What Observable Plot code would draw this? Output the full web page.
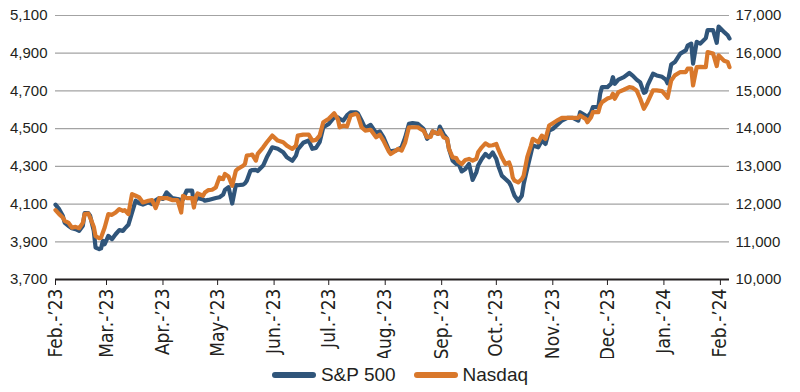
<!DOCTYPE html>
<html>
<head>
<meta charset="utf-8">
<script src="https://cdn.jsdelivr.net/npm/d3@7"></script>
<script src="https://cdn.jsdelivr.net/npm/@observablehq/plot@0.6"></script>
<style>
  html, body { margin: 0; padding: 0; background: #ffffff; }
  body { width: 800px; font-family: "Liberation Sans", Arial, sans-serif; color: #231f20; }
  #chart svg { display: block; }
  g[aria-label="x-axis tick label"] { font-family: "Liberation Sans Narrow", "Arial Narrow", "DejaVu Sans Condensed", sans-serif; font-size: 19px; }
  #legend { display: flex; justify-content: center; align-items: center; height: 34px; font-size: 19px; color: #231f20; }
  #legend .item { display: flex; align-items: center; margin: 0 9px; }
  #legend .sw { display: inline-block; width: 44px; height: 6px; border-radius: 3px; margin-right: 5px; }
</style>
</head>
<body>
<div id="chart"></div>
<div id="legend"></div>
<script>
// ---- data ----
const dates = [
"2023-02-01","2023-02-03","2023-02-05","2023-02-06","2023-02-08","2023-02-10","2023-02-12","2023-02-14","2023-02-16","2023-02-17",
"2023-02-19","2023-02-20","2023-02-22","2023-02-23","2023-02-25","2023-02-26","2023-02-27","2023-02-28","2023-03-02","2023-03-04",
"2023-03-06","2023-03-08","2023-03-10","2023-03-11","2023-03-13","2023-03-15","2023-03-17","2023-03-19","2023-03-21","2023-03-24",
"2023-03-26","2023-03-28","2023-03-30","2023-04-01","2023-04-03","2023-04-06","2023-04-09","2023-04-11","2023-04-12","2023-04-14",
"2023-04-17","2023-04-18","2023-04-19","2023-04-20","2023-04-23","2023-04-24","2023-04-26","2023-04-28","2023-04-30","2023-05-02",
"2023-05-04","2023-05-05","2023-05-07","2023-05-09","2023-05-11","2023-05-12","2023-05-15","2023-05-16","2023-05-17","2023-05-19",
"2023-05-20","2023-05-22","2023-05-23","2023-05-26","2023-05-28","2023-05-31","2023-06-03","2023-06-06","2023-06-08","2023-06-11",
"2023-06-13","2023-06-14","2023-06-17","2023-06-20","2023-06-22","2023-06-24","2023-06-26","2023-06-28","2023-07-01","2023-07-04",
"2023-07-06","2023-07-07","2023-07-09","2023-07-11","2023-07-13","2023-07-16","2023-07-17","2023-07-19","2023-07-21","2023-07-24",
"2023-07-27","2023-07-29","2023-07-31","2023-08-03","2023-08-04","2023-08-07","2023-08-08","2023-08-10","2023-08-12","2023-08-14",
"2023-08-16","2023-08-19","2023-08-20","2023-08-22","2023-08-24","2023-08-26","2023-08-27","2023-08-30","2023-08-31","2023-09-02",
"2023-09-04","2023-09-05","2023-09-07","2023-09-09","2023-09-10","2023-09-12","2023-09-14","2023-09-16","2023-09-18","2023-09-20",
"2023-09-21","2023-09-23","2023-09-25","2023-09-27","2023-09-29","2023-10-01","2023-10-02","2023-10-04","2023-10-06","2023-10-08",
"2023-10-09","2023-10-10","2023-10-11","2023-10-13","2023-10-15","2023-10-16","2023-10-18","2023-10-20","2023-10-21","2023-10-24",
"2023-10-26","2023-10-28","2023-10-30","2023-11-01","2023-11-04","2023-11-06","2023-11-09","2023-11-12","2023-11-15","2023-11-16",
"2023-11-19","2023-11-20","2023-11-22","2023-11-23","2023-11-26","2023-11-27","2023-11-28","2023-12-01","2023-12-03","2023-12-04",
"2023-12-05","2023-12-07","2023-12-10","2023-12-13","2023-12-15","2023-12-17","2023-12-19","2023-12-21","2023-12-22","2023-12-23",
"2023-12-26","2023-12-28","2023-12-31","2024-01-02","2024-01-03","2024-01-05","2024-01-07","2024-01-10","2024-01-13","2024-01-14",
"2024-01-16","2024-01-17","2024-01-19","2024-01-21","2024-01-24","2024-01-25","2024-01-28","2024-01-30","2024-01-31","2024-02-03",
"2024-02-05","2024-02-06"
];
const sp500 = [
4097,4073,4038,4002,3985,3972,3967,3958,3985,4052,
4052,4038,3958,3869,3861,3865,3905,3887,3931,3914,
3940,3962,3958,3970,3990,4055,4118,4104,4097,4109,
4100,4120,4132,4127,4162,4132,4127,4121,4125,4171,
4171,4100,4120,4132,4125,4118,4122,4127,4132,4136,
4150,4175,4190,4103,4200,4200,4203,4210,4224,4277,
4280,4281,4275,4304,4348,4401,4393,4375,4348,4330,
4357,4390,4425,4437,4393,4398,4428,4507,4525,4561,
4560,4552,4543,4570,4587,4587,4580,4543,4503,4520,
4477,4485,4455,4388,4380,4385,4390,4401,4454,4525,
4529,4525,4516,4499,4446,4465,4485,4472,4511,4472,
4446,4393,4330,4313,4321,4273,4286,4313,4228,4268,
4304,4339,4366,4348,4374,4339,4304,4251,4233,4215,
4198,4170,4144,4118,4144,4206,4290,4370,4410,4401,
4437,4419,4490,4499,4525,4543,4557,4557,4543,4587,
4570,4560,4587,4614,4614,4685,4720,4720,4738,4773,
4738,4760,4773,4795,4780,4760,4745,4690,4694,4729,
4791,4782,4775,4760,4741,4840,4853,4898,4915,4940,
4951,4845,4960,4951,4980,5023,5022,4955,5041,5013,
4995,4978
];
const nasdaq = [
11840,11733,11643,11555,11510,11377,11395,11360,11500,11733,
11750,11643,11400,11150,11095,11110,11245,11377,11733,11715,
11776,11866,11821,11840,11733,12265,12220,12175,12042,12087,
12106,11893,12159,12159,12159,12106,12106,11776,12220,12159,
12159,11909,12193,12281,12220,12308,12372,12380,12441,12707,
12664,12797,12734,12486,12885,12930,13018,13063,13284,13300,
13310,13151,13329,13505,13638,13816,13683,13638,13550,13462,
13550,13816,13843,13843,13683,13701,13816,14170,14260,14409,
14250,14037,14082,14055,14348,14393,14348,14037,13949,13970,
13772,13838,13683,13395,13329,13420,13462,13417,13638,14037,
14037,14037,14000,13949,13771,13780,13930,13861,13949,13771,
13728,13462,13239,13222,13132,13063,13170,13196,13150,13196,
13372,13505,13611,13550,13560,13594,13462,13239,13063,13106,
12973,12707,12620,12574,12664,12752,13250,13550,13728,13638,
13816,13728,14082,14143,14234,14287,14287,14287,14287,14348,
14260,14170,14303,14436,14436,14614,14700,14800,14835,14925,
14792,14968,15031,15101,15080,15013,14792,14526,14614,14702,
15013,15013,14995,14880,14819,15279,15412,15500,15500,15590,
15590,15146,15633,15640,15633,16032,15989,15660,15944,15800,
15766,15630
];
const seriesNames = ["S&P 500", "Nasdaq"];
const seriesColors = ["#30557a", "#d9782b"];
const monthTicks = ["2023-02-01","2023-03-01","2023-04-01","2023-05-01","2023-06-01","2023-07-01","2023-08-01",
  "2023-09-01","2023-10-01","2023-11-01","2023-12-01","2024-01-01","2024-02-01"];
const monthLabels = ["Feb.-’23","Mar.-’23","Apr.-’23","May-’23","Jun.-’23","Jul.-’23","Aug.-’23",
  "Sep.-’23","Oct.-’23","Nov.-’23","Dec.-’23","Jan.-’24","Feb.-’24"];
const leftTicks = [3700, 3900, 4100, 4300, 4500, 4700, 4900, 5100];
const rightTicks = [10000, 11000, 12000, 13000, 14000, 15000, 16000, 17000];
const xDomain = ["2023-02-01", "2024-02-06"];

// ---- build ----
const parse = d3.utcParse("%Y-%m-%d");
const fmtDay = d3.utcFormat("%Y-%m-%d");
const comma = d3.format(",");
// Nasdaq (right axis) mapped onto the S&P (left axis) scale
const toLeft = d3.scaleLinear().domain(d3.extent(rightTicks)).range(d3.extent(leftTicks));

const spRows = dates.map((d, i) => ({date: parse(d), value: sp500[i]}));
const ndRows = dates.map((d, i) => ({date: parse(d), value: toLeft(nasdaq[i])}));

const chart = Plot.plot({
  width: 800,
  height: 358,
  marginTop: 15,
  marginBottom: 79,
  marginLeft: 55,
  marginRight: 71,
  style: {fontFamily: '"Liberation Sans", Arial, sans-serif', fontSize: "15px", color: "#231f20", background: "#fff"},
  x: {type: "utc", domain: xDomain.map(parse)},
  y: {domain: d3.extent(leftTicks)},
  marks: [
    Plot.gridY(leftTicks, {stroke: "#a3a3a3", strokeOpacity: 1, strokeWidth: 1.2}),
    Plot.axisY(leftTicks, {anchor: "left", label: null, tickSize: 0, tickPadding: 8, tickFormat: comma}),
    Plot.axisY(leftTicks, {anchor: "right", label: null, tickSize: 0, tickPadding: 6,
      tickFormat: d => comma(Math.round(toLeft.invert(d)))}),
    Plot.axisX(monthTicks.map(parse), {label: null, tickRotate: -90, tickSize: 6, tickPadding: 3, stroke: "#231f20",
      tickFormat: d => monthLabels[monthTicks.indexOf(fmtDay(d))]}),
    Plot.ruleY([leftTicks[0]], {stroke: "#231f20", strokeWidth: 2}),
    Plot.lineY(spRows, {x: "date", y: "value", stroke: seriesColors[0], strokeWidth: 4.2, strokeLinejoin: "round", strokeLinecap: "round"}),
    Plot.lineY(ndRows, {x: "date", y: "value", stroke: seriesColors[1], strokeWidth: 4.2, strokeLinejoin: "round", strokeLinecap: "round"})
  ]
});
document.getElementById("chart").appendChild(chart);

const legend = document.getElementById("legend");
seriesNames.forEach((name, i) => {
  const item = document.createElement("span");
  item.className = "item";
  const sw = document.createElement("span");
  sw.className = "sw";
  sw.style.background = seriesColors[i];
  const label = document.createElement("span");
  label.textContent = name;
  item.appendChild(sw);
  item.appendChild(label);
  legend.appendChild(item);
});
</script>
</body>
</html>
